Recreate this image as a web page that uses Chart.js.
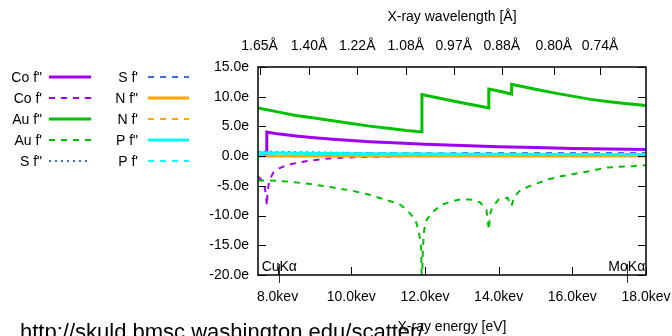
<!DOCTYPE html>
<html><head><meta charset="utf-8">
<script src="https://cdn.jsdelivr.net/npm/chart.js@4.4.1/dist/chart.umd.min.js"></script>
<style>html,body{margin:0;padding:0;background:#fff;overflow:hidden}canvas{display:block}</style>
</head><body>
<canvas id="c" width="672" height="336"></canvas>
<script>
// ---- axes ----
const X_MIN = 7.47, X_MAX = 18.0;
const Y_MIN = -20, Y_MAX = 15;
const ENERGY_TICKS = [8, 10, 12, 14, 16, 18];
const Y_TICKS = [-20, -15, -10, -5, 0, 5, 10, 15];
const WAVELENGTH_TICKS = [1.65, 1.40, 1.22, 1.08, 0.97, 0.88, 0.80, 0.74];
const HC = 12.398; // keV * Angstrom
const EMISSION_LINES = [{ name: 'CuKα', e: 8.048 }, { name: 'MoKα', e: 17.479 }];
const URL_TEXT = 'http://skuld.bmsc.washington.edu/scatter/';

// ---- series (energy in keV, value in electrons) ----
const CO_FPP_E = [7.47, 7.709, 7.709, 8.0, 8.5, 9.0, 9.5, 10.0, 10.5, 11.0, 12.0, 13.0, 14.0, 15.0, 16.0, 17.0, 18.0];
const CO_FPP   = [0.5, 0.5, 4.05, 3.75, 3.4, 3.1, 2.85, 2.62, 2.44, 2.28, 2.0, 1.78, 1.6, 1.44, 1.3, 1.19, 1.1];

const CO_FP_E = [7.47, 7.55, 7.62, 7.66, 7.69, 7.709, 7.73, 7.76, 7.82, 7.88, 7.95, 8.05, 8.12, 8.25, 8.39, 8.66, 8.94, 9.21, 9.48, 9.75, 10.05, 11.0, 12.0, 14.0, 16.0, 18.0];
const CO_FP   = [-3.4, -3.9, -4.6, -5.5, -6.8, -8.3, -6.0, -4.8, -3.6, -2.8, -2.4, -2.05, -1.85, -1.55, -1.3, -1.0, -0.7, -0.5, -0.35, -0.25, -0.2, -0.05, 0.05, 0.15, 0.22, 0.28];

const AU_FPP_E = [7.47, 8.0, 8.5, 9.0, 9.5, 10.0, 10.5, 11.0, 11.5, 11.919, 11.919, 12.5, 13.0, 13.5, 13.734, 13.734, 14.0, 14.353, 14.353, 15.0, 15.5, 16.0, 16.5, 17.0, 17.5, 18.0];
const AU_FPP   = [8.1, 7.45, 6.85, 6.4, 5.95, 5.5, 5.05, 4.7, 4.3, 4.07, 10.35, 9.63, 9.0, 8.4, 8.1, 11.3, 10.95, 10.45, 12.1, 11.25, 10.65, 10.1, 9.55, 9.15, 8.8, 8.5];

const AU_FP_E = [7.47, 7.8, 8.34, 8.88, 9.43, 9.97, 10.5, 11.06, 11.33, 11.55, 11.74, 11.82, 11.87, 11.9, 11.919, 11.935, 11.96, 11.98, 12.05, 12.21, 12.42, 12.69, 12.96, 13.23, 13.5, 13.67, 13.734, 13.77, 13.82, 14.0, 14.24, 14.353, 14.41, 14.56, 14.82, 15.08, 15.35, 15.68, 16.41, 16.95, 17.85, 18.0];
const AU_FP   = [-4.1, -4.1, -4.3, -4.7, -5.2, -5.75, -6.5, -7.6, -8.15, -9.3, -10.7, -12.4, -14.0, -15.7, -24.0, -17.4, -14.0, -12.4, -10.7, -9.4, -8.3, -7.65, -7.3, -7.3, -7.8, -9.0, -12.4, -9.8, -8.7, -7.3, -7.0, -8.4, -7.0, -5.9, -5.1, -4.5, -3.9, -3.4, -2.6, -1.9, -1.6, -1.5];

const LIGHT_E = [7.47, 10.0, 12.0, 14.0, 16.0, 18.0];
const S_FPP = [0.75, 0.55, 0.42, 0.32, 0.22, 0.15];
const S_FP  = [0.45, 0.48, 0.5, 0.52, 0.53, 0.55];
const N_FPP = [0.04, 0.03, 0.02, 0.02, 0.01, 0.01];
const N_FP  = [0.02, 0.01, 0.01, 0.01, 0.01, 0.01];
const P_FPP = [0.55, 0.42, 0.35, 0.3, 0.27, 0.25];
const P_FP  = [0.3, 0.3, 0.3, 0.3, 0.3, 0.3];

const FONT = '"Liberation Sans", Arial, sans-serif';
const C_CO = '#a000f0', C_AU = '#00c000', C_S = '#4169e1', C_N = '#ffa500', C_P = '#00ffff';
const DASH = [6, 6], DOT = [2, 4];

const pts = (E, V) => E.map((e, i) => ({ x: e, y: V[i] }));
const series = [
  { label: 'Co f"', E: CO_FPP_E, V: CO_FPP, color: C_CO, width: 3, dash: [] },
  { label: "Co f'", E: CO_FP_E, V: CO_FP, color: C_CO, width: 2, dash: DASH },
  { label: 'Au f"', E: AU_FPP_E, V: AU_FPP, color: C_AU, width: 3, dash: [] },
  { label: "Au f'", E: AU_FP_E, V: AU_FP, color: C_AU, width: 2, dash: DASH },
  { label: 'S f"', E: LIGHT_E, V: S_FPP, color: C_S, width: 2, dash: DOT },
  { label: "S f'", E: LIGHT_E, V: S_FP, color: C_S, width: 2, dash: DASH },
  { label: 'N f"', E: LIGHT_E, V: N_FPP, color: C_N, width: 3, dash: [] },
  { label: "N f'", E: LIGHT_E, V: N_FP, color: C_N, width: 2, dash: DASH },
  { label: 'P f"', E: LIGHT_E, V: P_FPP, color: C_P, width: 3, dash: [] },
  { label: "P f'", E: LIGHT_E, V: P_FP, color: C_P, width: 2, dash: DASH },
];
const datasets = series.map((s, i) => ({
  label: s.label, data: pts(s.E, s.V), borderColor: s.color, backgroundColor: s.color,
  borderWidth: s.width, borderDash: s.dash, pointRadius: 0, tension: 0, fill: false,
  order: series.length - i, xAxisID: 'x', yAxisID: 'y'
}));

const decor = {
  id: 'decor',
  beforeDraw(chart) {
    const ctx = chart.ctx;
    ctx.save();
    ctx.fillStyle = '#000';
    ctx.font = '22px ' + FONT;
    ctx.textBaseline = 'alphabetic';
    ctx.textAlign = 'left';
    ctx.fillText(URL_TEXT, 20, 339);
    ctx.restore();
  },
  afterDraw(chart) {
    const ctx = chart.ctx, a = chart.chartArea;
    const xs = chart.scales.x, x2 = chart.scales.x2, ys = chart.scales.y;
    ctx.save();
    ctx.strokeStyle = '#000';
    ctx.lineWidth = 1;
    ctx.beginPath();
    const TL = 8;
    ys.ticks.forEach(t => {
      const p = Math.round(ys.getPixelForValue(t.value)) + 0.5;
      ctx.moveTo(a.left, p); ctx.lineTo(a.left + TL, p);
      ctx.moveTo(a.right, p); ctx.lineTo(a.right - TL, p);
    });
    xs.ticks.forEach(t => {
      const p = Math.round(xs.getPixelForValue(t.value)) + 0.5;
      ctx.moveTo(p, a.bottom); ctx.lineTo(p, a.bottom - TL);
    });
    x2.ticks.forEach(t => {
      const p = Math.round(x2.getPixelForValue(t.value)) + 0.5;
      ctx.moveTo(p, a.top); ctx.lineTo(p, a.top + TL);
    });
    ctx.stroke();
    // emission line markers
    ctx.strokeStyle = '#333';
    ctx.beginPath();
    EMISSION_LINES.forEach(l => {
      const p = Math.round(xs.getPixelForValue(l.e)) + 0.5;
      ctx.moveTo(p, a.bottom - 11); ctx.lineTo(p, a.bottom + 8);
    });
    ctx.stroke();
    ctx.save();
    ctx.beginPath(); ctx.rect(a.left, a.top, a.right - a.left, a.bottom - a.top); ctx.clip();
    ctx.fillStyle = '#000';
    ctx.font = '14px ' + FONT;
    ctx.textAlign = 'center';
    ctx.textBaseline = 'alphabetic';
    EMISSION_LINES.forEach(l => {
      ctx.fillText(l.name, xs.getPixelForValue(l.e), a.bottom - 4);
    });
    ctx.restore();
    // frame
    ctx.strokeStyle = '#000';
    ctx.lineWidth = 1.5;
    ctx.strokeRect(a.left, a.top, a.right - a.left, a.bottom - a.top);
    // legend
    ctx.font = '14px ' + FONT;
    ctx.textBaseline = 'middle';
    ctx.textAlign = 'right';
    chart.data.datasets.forEach((d, i) => {
      const col = Math.floor(i / 5), row = i % 5;
      const y = 77 + row * 21;
      const tx = col === 0 ? 42 : 138;
      const lx0 = col === 0 ? 49 : 148, lx1 = col === 0 ? 91 : 189;
      ctx.fillStyle = '#000';
      ctx.fillText(d.label, tx, y + 1);
      ctx.strokeStyle = d.borderColor;
      ctx.lineWidth = d.borderWidth;
      ctx.setLineDash(d.borderDash || []);
      ctx.beginPath(); ctx.moveTo(lx0, y); ctx.lineTo(lx1, y); ctx.stroke();
      ctx.setLineDash([]);
    });
    ctx.restore();
  }
};

const tickFont = { family: FONT, size: 14 };
new Chart(document.getElementById('c'), {
  type: 'line',
  data: { datasets },
  options: {
    responsive: false, animation: false, devicePixelRatio: 1,
    layout: { padding: { left: 200, right: 26, top: 0, bottom: 0 } },
    plugins: { legend: { display: false }, tooltip: { enabled: false } },
    scales: {
      x: {
        type: 'linear', position: 'bottom', min: X_MIN, max: X_MAX,
        afterBuildTicks: s => { s.ticks = ENERGY_TICKS.map(v => ({ value: v })); },
        afterFit: s => { s.height = 61; s.paddingLeft = 0; s.paddingRight = 0; },
        grid: { display: false, drawTicks: false }, border: { display: false },
        ticks: { padding: 14, maxRotation: 0, autoSkip: false, color: '#000', font: tickFont,
                 callback: v => v.toFixed(1) + 'kev' },
        title: { display: true, text: 'X-ray energy [eV]', color: '#000', font: tickFont, padding: { top: 0, bottom: 0 } }
      },
      x2: {
        type: 'linear', position: 'top', min: X_MIN, max: X_MAX,
        afterBuildTicks: s => { s.ticks = WAVELENGTH_TICKS.map(l => ({ value: HC / l })); },
        afterFit: s => { s.height = 67; s.paddingLeft = 0; s.paddingRight = 0; },
        grid: { display: false, drawTicks: false }, border: { display: false },
        ticks: { padding: 12, maxRotation: 0, autoSkip: false, color: '#000', font: tickFont,
                 callback: v => (HC / v).toFixed(2) + 'Å' },
        title: { display: true, text: 'X-ray wavelength [Å]', color: '#000', font: tickFont, padding: { top: 9, bottom: 0 } }
      },
      y: {
        type: 'linear', position: 'left', min: Y_MIN, max: Y_MAX,
        afterBuildTicks: s => { s.ticks = Y_TICKS.map(v => ({ value: v })); },
        afterFit: s => { s.width = 58; s.paddingTop = 0; s.paddingBottom = 0; },
        grid: { display: false, drawTicks: false }, border: { display: false },
        ticks: { padding: 9, color: '#000', font: tickFont, callback: v => v.toFixed(1) + 'e' }
      }
    }
  },
  plugins: [decor]
});
</script>
</body></html>
